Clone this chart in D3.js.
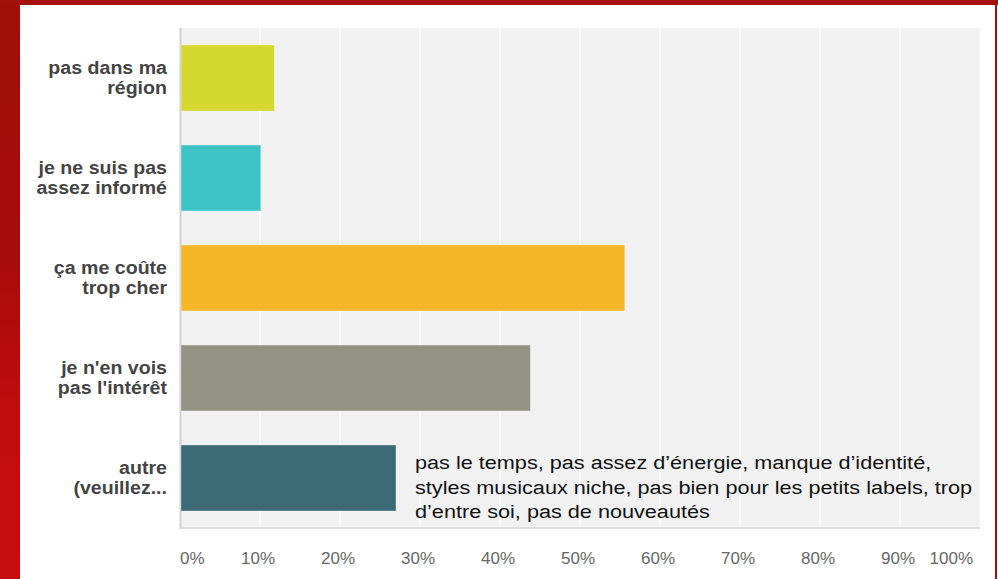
<!DOCTYPE html>
<html>
<head>
<meta charset="utf-8">
<script src="https://cdn.jsdelivr.net/npm/d3@7"></script>
<style>
  html, body { margin: 0; padding: 0; background: #fff; }
  svg { display: block; font-family: "Liberation Sans", Arial, sans-serif; }
</style>
</head>
<body>
<svg id="chart"></svg>
<script>
// data
var categories = [
  ['pas dans ma', 'région'],
  ['je ne suis pas', 'assez informé'],
  ['ça me coûte', 'trop cher'],
  ["je n'en vois", "pas l'intérêt"],
  ['autre', '(veuillez...']
];
var values = [11.8, 10.1, 55.6, 43.8, 27.0];
var colors = ['#d4d82f', '#3dc3c6', '#f6b627', '#929383', '#3b6a76'];
var ticks = [0, 10, 20, 30, 40, 50, 60, 70, 80, 90, 100];
var note = [
  'pas le temps, pas assez d\u2019énergie, manque d\u2019identité,',
  'styles musicaux niche, pas bien pour les petits labels, trop',
  'd\u2019entre soi, pas de nouveautés'
];

var config = { width: 998, height: 579 };
var plot = { left: 180, right: 980, top: 28, bottom: 528 };

var svg = d3.select('#chart').attr('width', config.width).attr('height', config.height);

// red frame of the slide
var grad = svg.append('defs').append('linearGradient')
  .attr('id', 'redside').attr('x1', 0).attr('y1', 0).attr('x2', 0).attr('y2', 1);
grad.append('stop').attr('offset', '0%').attr('stop-color', '#a00f08');
grad.append('stop').attr('offset', '45%').attr('stop-color', '#a60c0a');
grad.append('stop').attr('offset', '70%').attr('stop-color', '#c00c0d');
grad.append('stop').attr('offset', '100%').attr('stop-color', '#c40c0e');

svg.append('rect').attr('x', 0).attr('y', 0).attr('width', 20).attr('height', config.height)
  .attr('fill', 'url(#redside)');
svg.append('rect').attr('x', 0).attr('y', 0).attr('width', config.width).attr('height', 5)
  .attr('fill', '#a21008');
svg.append('rect').attr('x', 995).attr('y', 0).attr('width', 2).attr('height', config.height)
  .attr('fill', '#a21008');

// scales
var x = d3.scaleLinear().domain([0, 100]).range([plot.left, plot.right]);
var y = d3.scaleBand().domain(d3.range(categories.length))
  .range([plot.top, plot.bottom]).paddingInner(0.34).paddingOuter(0.17);

// plot background
svg.append('rect')
  .attr('x', plot.left).attr('y', plot.top)
  .attr('width', plot.right - plot.left).attr('height', plot.bottom - plot.top)
  .attr('fill', '#f1f1f1');

// gridlines
svg.append('g').selectAll('line').data(ticks.slice(1)).join('line')
  .attr('x1', d => x(d)).attr('x2', d => x(d))
  .attr('y1', plot.top).attr('y2', plot.bottom)
  .attr('stroke', '#fafafa').attr('stroke-width', 2);

// axis lines
svg.append('line').attr('x1', plot.left).attr('x2', plot.right)
  .attr('y1', plot.bottom).attr('y2', plot.bottom)
  .attr('stroke', '#dedede').attr('stroke-width', 2);
svg.append('line').attr('x1', plot.left + 0.5).attr('x2', plot.left + 0.5)
  .attr('y1', plot.top).attr('y2', plot.bottom + 1)
  .attr('stroke', '#d0d0d0').attr('stroke-width', 2);

// bars
svg.append('g').selectAll('rect').data(values).join('rect')
  .attr('x', x(0) + 1)
  .attr('y', (d, i) => y(i))
  .attr('width', d => x(d) - x(0) - 1)
  .attr('height', y.bandwidth())
  .attr('fill', (d, i) => colors[i])
  .attr('stroke', 'rgba(255,255,255,0.35)')
  .attr('stroke-width', 1);

// category labels (the source text is a bit wide, hence the x-scale)
var labels = svg.append('g').selectAll('text').data(categories).join('text')
  .attr('transform', (d, i) => 'translate(167,' + (y(i) + y.bandwidth() / 2) + ') scale(1.12,1)')
  .attr('text-anchor', 'end')
  .attr('font-size', 17.5)
  .attr('font-weight', 'bold')
  .attr('fill', '#444');
labels.selectAll('tspan').data(d => d).join('tspan')
  .attr('x', 0)
  .attr('y', (t, k) => -4 + k * 20.5)
  .text(t => t);

// tick labels
svg.append('g').selectAll('text').data(ticks).join('text')
  .attr('x', d => d === 0 ? x(d) : d === 100 ? x(d) - 7 : x(d) - 2)
  .attr('y', 564)
  .attr('text-anchor', d => d === 0 ? 'start' : d === 100 ? 'end' : 'middle')
  .attr('font-size', 17)
  .attr('fill', '#666')
  .text(d => d + '%');

// free-text answers for "autre"
svg.append('g').selectAll('text').data(note).join('text')
  .attr('transform', (d, i) => 'translate(415,' + (469 + i * 24.5) + ') scale(1.14,1)')
  .attr('font-size', 19)
  .attr('fill', '#111')
  .text(d => d);
</script>
</body>
</html>
